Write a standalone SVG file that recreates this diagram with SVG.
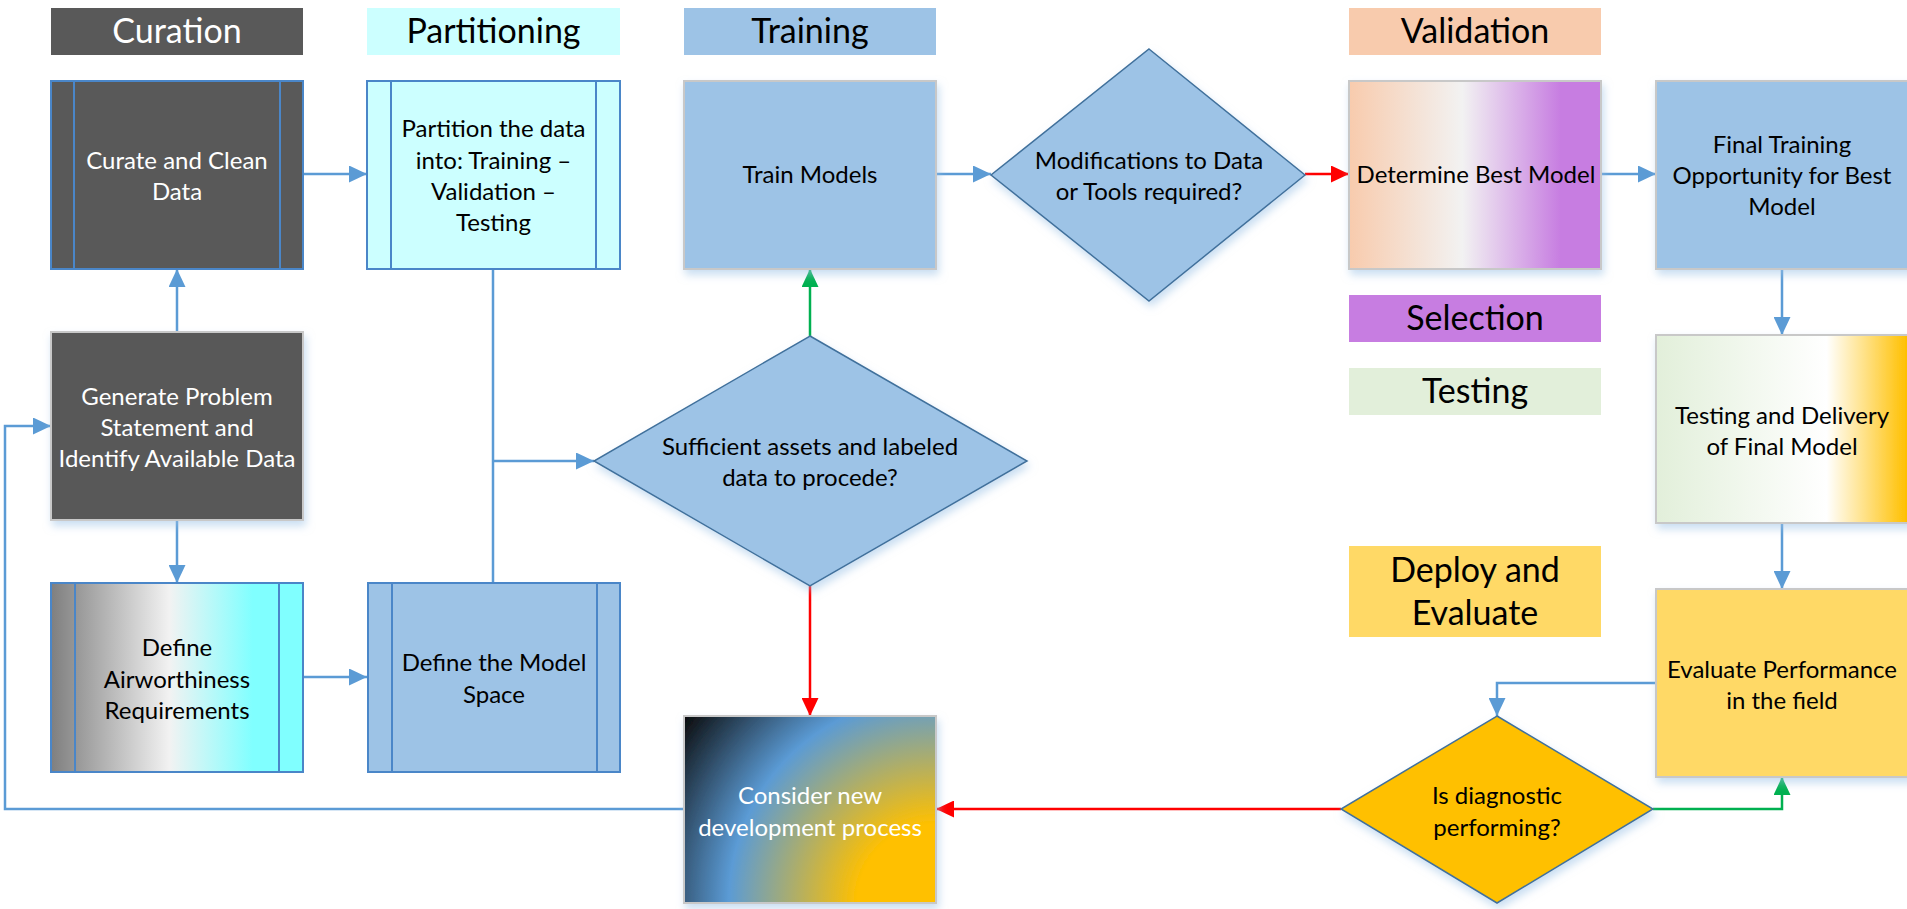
<svg xmlns="http://www.w3.org/2000/svg" width="1907" height="909" viewBox="0 0 1907 909">
<style>
text{font-family:Lato,"Liberation Sans",sans-serif;text-anchor:middle}
.hd{font-size:34px;fill:#000}
.tx{font-size:24px;fill:#000}
.wt{fill:#fff}
.sub{stroke:#4A86C8;stroke-width:2}
.box{stroke:#C8C8C8;stroke-width:2;filter:url(#sh)}
.dia{stroke:#41719C;stroke-width:1.5;filter:url(#sh)}
.inner{stroke:#4A86C8;stroke-width:2;fill:none}
.cb{fill:none;stroke:#5B9BD5;stroke-width:2.5;marker-end:url(#ab)}
.cr{fill:none;stroke:#FF0000;stroke-width:2.5;marker-end:url(#ar)}
.cg{fill:none;stroke:#00B050;stroke-width:2.5;marker-end:url(#ag)}
.pl{fill:none;stroke:#5B9BD5;stroke-width:2.5}
</style>
<defs>
<filter id="sh" x="-10%" y="-10%" width="125%" height="130%">
<feDropShadow dx="2" dy="5" stdDeviation="4" flood-color="#9DC3E6" flood-opacity="0.55"/>
</filter>
<marker id="ab" markerUnits="userSpaceOnUse" markerWidth="18" markerHeight="17" refX="18" refY="8.5" orient="auto"><path d="M0,0 L18,8.5 L0,17 Z" fill="#5B9BD5"/></marker>
<marker id="ar" markerUnits="userSpaceOnUse" markerWidth="18" markerHeight="17" refX="18" refY="8.5" orient="auto"><path d="M0,0 L18,8.5 L0,17 Z" fill="#FF0000"/></marker>
<marker id="ag" markerUnits="userSpaceOnUse" markerWidth="18" markerHeight="17" refX="18" refY="8.5" orient="auto"><path d="M0,0 L18,8.5 L0,17 Z" fill="#00B050"/></marker>
<linearGradient id="gAir" gradientUnits="userSpaceOnUse" x1="51" y1="0" x2="303" y2="0">
<stop offset="0" stop-color="#7F7F7F"/><stop offset="0.47" stop-color="#F2F2F2"/><stop offset="0.8" stop-color="#80FFFF"/><stop offset="1" stop-color="#80FFFF"/>
</linearGradient>
<linearGradient id="gDet" gradientUnits="userSpaceOnUse" x1="1349" y1="0" x2="1601" y2="0">
<stop offset="0" stop-color="#F8CBAD"/><stop offset="0.45" stop-color="#F2F2F2"/><stop offset="0.84" stop-color="#C77DE1"/><stop offset="1" stop-color="#C77DE1"/>
</linearGradient>
<linearGradient id="gTst" gradientUnits="userSpaceOnUse" x1="1656" y1="0" x2="1907" y2="0">
<stop offset="0" stop-color="#E2EFDA"/><stop offset="0.68" stop-color="#FFFFFF"/><stop offset="1" stop-color="#FFC000"/>
</linearGradient>
<radialGradient id="gCon" gradientUnits="userSpaceOnUse" cx="936" cy="903" r="314" fx="936" fy="903">
<stop offset="0" stop-color="#FFC000"/><stop offset="0.25" stop-color="#FFC000"/><stop offset="0.66" stop-color="#5B9BD5"/><stop offset="1" stop-color="#0A0A0A"/>
</radialGradient>
</defs>
<rect width="1907" height="909" fill="#fff"/>

<g id="headers">
<rect x="51" y="8" width="252" height="47" fill="#595959"/><text class="hd wt" x="177" y="43">Curation</text>
<rect x="367" y="8" width="253" height="47" fill="#CCFFFF"/><text class="hd" x="493.5" y="43">Partitioning</text>
<rect x="684" y="8" width="252" height="47" fill="#9DC3E6"/><text class="hd" x="810" y="43">Training</text>
<rect x="1349" y="8" width="252" height="47" fill="#F8CBAD"/><text class="hd" x="1475" y="43">Validation</text>
<rect x="1349" y="295" width="252" height="47" fill="#C77DE1"/><text class="hd" x="1475" y="330">Selection</text>
<rect x="1349" y="368" width="252" height="47" fill="#E2EFDA"/><text class="hd" x="1475" y="403">Testing</text>
<rect x="1349" y="546" width="252" height="91" fill="#FFD966"/><text class="hd" x="1475" y="582">Deploy and</text><text class="hd" x="1475" y="625">Evaluate</text>
</g>

<g id="connectors">
<path class="cb" d="M303,174 H367"/>
<path class="cb" d="M177,332 V269"/>
<path class="cb" d="M177,520 V583"/>
<path class="cb" d="M303,677 H367"/>
<path class="pl" d="M493,269 V583"/>
<path class="cb" d="M493,461 H594"/>
<path class="cg" d="M810,336 V269"/>
<path class="cr" d="M810,586 V716"/>
<path class="cb" d="M936,174 H991"/>
<path class="cr" d="M1305,174 H1349"/>
<path class="cb" d="M1601,174 H1656"/>
<path class="cb" d="M1782,269 V335"/>
<path class="cb" d="M1782,523 V589"/>
<path class="cb" d="M1656,683 H1497 V716"/>
<path class="cg" d="M1653,809 H1782 V777"/>
<path class="cr" d="M1341,809 H936"/>
<path class="cb" d="M684,809 H5 V426 H51"/>
</g>

<g id="curate">
<rect class="sub" x="51" y="81" width="252" height="188" fill="#595959"/>
<path class="inner" d="M74,81 V269 M280,81 V269"/>
<text class="tx wt" x="177" y="169">Curate and Clean</text><text class="tx wt" x="177" y="200">Data</text>
</g>
<g id="partition">
<rect class="sub" x="367" y="81" width="253" height="188" fill="#CCFFFF"/>
<path class="inner" d="M391,81 V269 M596,81 V269"/>
<text class="tx" x="493.5" y="137">Partition the data</text><text class="tx" x="493.5" y="169">into: Training –</text><text class="tx" x="493.5" y="200">Validation –</text><text class="tx" x="493.5" y="231">Testing</text>
</g>
<g id="generate">
<rect class="box" x="51" y="332" width="252" height="188" fill="#595959"/>
<text class="tx wt" x="177" y="405">Generate Problem</text><text class="tx wt" x="177" y="436">Statement and</text><text class="tx wt" x="177" y="467">Identify Available Data</text>
</g>
<g id="airworthiness">
<rect class="sub" x="51" y="583" width="252" height="189" fill="url(#gAir)"/>
<path class="inner" d="M75,583 V772 M279,583 V772"/>
<text class="tx" x="177" y="656">Define</text><text class="tx" x="177" y="688">Airworthiness</text><text class="tx" x="177" y="719">Requirements</text>
</g>
<g id="modelspace">
<rect class="sub" x="368" y="583" width="252" height="189" fill="#9DC3E6"/>
<path class="inner" d="M392,583 V772 M597,583 V772"/>
<text class="tx" x="494" y="671">Define the Model</text><text class="tx" x="494" y="703">Space</text>
</g>
<g id="train">
<rect class="box" x="684" y="81" width="252" height="188" fill="#9DC3E6"/>
<text class="tx" x="810" y="183">Train Models</text>
</g>
<g id="modifications">
<polygon class="dia" points="1149,49 1305,175 1149,301 991,175" fill="#9DC3E6"/>
<text class="tx" x="1149" y="169">Modifications to Data</text><text class="tx" x="1149" y="200">or Tools required?</text>
</g>
<g id="sufficient">
<polygon class="dia" points="810,336 1027,461 810,586 594,461" fill="#9DC3E6"/>
<text class="tx" x="810" y="455">Sufficient assets and labeled</text><text class="tx" x="810" y="486">data to procede?</text>
</g>
<g id="determine">
<rect class="box" x="1349" y="81" width="252" height="188" fill="url(#gDet)"/>
<text class="tx" x="1476" y="183">Determine Best Model</text>
</g>
<g id="finaltraining">
<rect class="box" x="1656" y="81" width="262" height="188" fill="#9DC3E6"/>
<text class="tx" x="1782" y="153">Final Training</text><text class="tx" x="1782" y="184">Opportunity for Best</text><text class="tx" x="1782" y="215">Model</text>
</g>
<g id="testingdelivery">
<rect class="box" x="1656" y="335" width="262" height="188" fill="url(#gTst)"/>
<text class="tx" x="1782" y="424">Testing and Delivery</text><text class="tx" x="1782" y="455">of Final Model</text>
</g>
<g id="evaluate">
<rect class="box" x="1656" y="589" width="262" height="188" fill="#FFD966"/>
<text class="tx" x="1782" y="678">Evaluate Performance</text><text class="tx" x="1782" y="709">in the field</text>
</g>
<g id="diagnostic">
<polygon class="dia" points="1497,716 1653,809 1497,903 1341,809" fill="#FFC000"/>
<text class="tx" x="1497" y="804">Is diagnostic</text><text class="tx" x="1497" y="836">performing?</text>
</g>
<g id="consider">
<rect class="box" x="684" y="716" width="252" height="187" fill="url(#gCon)"/>
<text class="tx wt" x="810" y="804">Consider new</text><text class="tx wt" x="810" y="836">development process</text>
</g>
</svg>
